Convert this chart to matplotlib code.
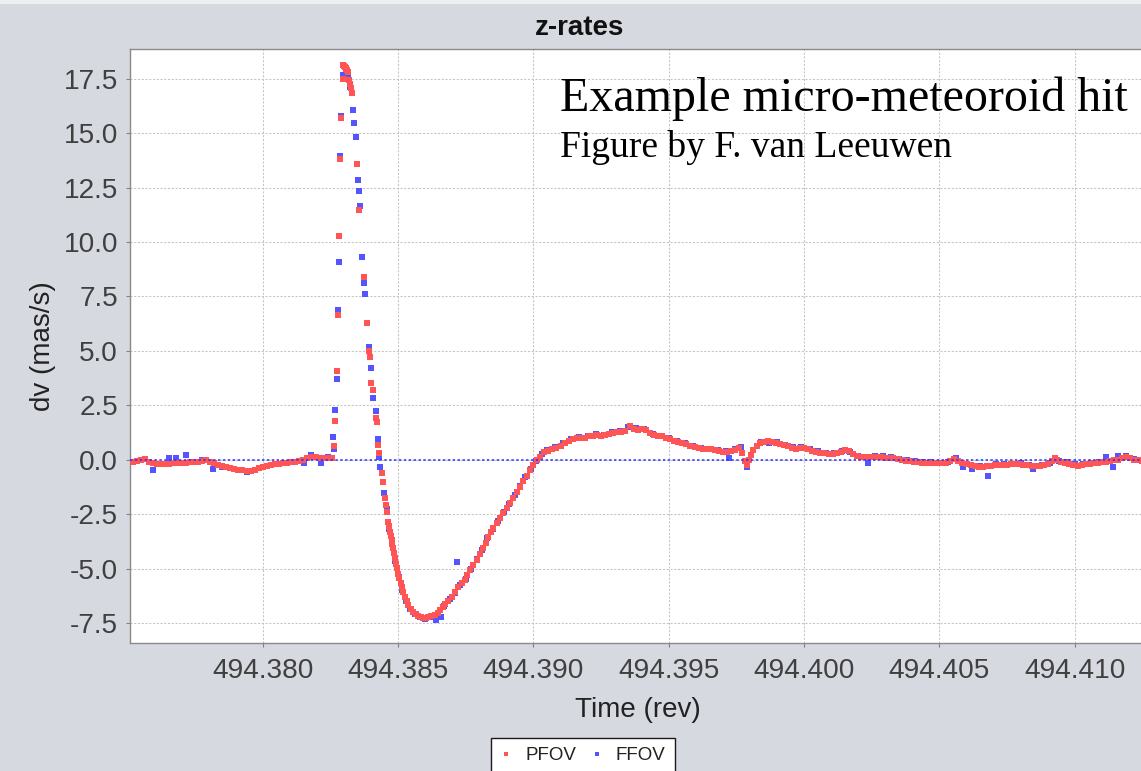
import matplotlib
matplotlib.use("Agg")
import matplotlib.pyplot as plt
from matplotlib.lines import Line2D
from matplotlib.patches import Rectangle
from matplotlib.ticker import FormatStrFormatter

plt.rcParams["font.family"] = ["Liberation Sans", "DejaVu Sans"]
plt.rcParams["axes.unicode_minus"] = False

# Sample times are offsets from T0, in milli-revolutions
T0 = 494.375

# PFOV along-scan rate residuals: (time offset [mrev], dv [mas/s])
pfov = [
    (0.05, -0.08), (0.20, -0.07), (0.35, -0.05), (0.50, 0.00), (0.65, 0.04), (0.80, -0.08),
    (0.95, -0.14), (1.10, -0.17), (1.25, -0.20), (1.40, -0.19), (1.55, -0.18), (1.70, -0.16),
    (1.85, -0.15), (2.00, -0.13), (2.15, -0.12), (2.30, -0.10), (2.45, -0.08), (2.60, -0.07),
    (2.75, -0.05), (2.90, -0.02), (3.05, -0.08), (3.20, -0.16), (3.35, -0.21), (3.50, -0.26),
    (3.65, -0.30), (3.80, -0.35), (3.95, -0.40), (4.10, -0.44), (4.25, -0.48), (4.40, -0.51),
    (4.55, -0.50), (4.70, -0.44), (4.85, -0.38), (5.00, -0.31), (5.15, -0.26), (5.30, -0.21),
    (5.45, -0.19), (5.60, -0.17), (5.75, -0.16), (5.90, -0.14), (6.05, -0.11), (6.20, -0.08),
    (6.35, -0.05), (6.50, 0.00), (6.65, 0.08), (6.80, 0.14), (6.95, 0.12), (7.10, 0.10),
    (7.25, 0.10), (7.40, 0.09), (7.55, 0.08),
    (7.63, 0.64), (7.68, 1.79), (7.73, 4.08), (7.77, 6.65), (7.81, 10.29), (7.86, 13.79),
    (7.90, 15.67), (7.95, 17.48), (7.97, 18.12), (8.00, 18.08), (8.03, 18.03), (8.06, 17.97),
    (8.09, 17.93), (8.12, 17.89), (8.16, 17.78), (8.20, 17.45), (8.22, 17.26), (8.25, 17.05),
    (8.28, 16.82), (8.47, 13.56), (8.55, 11.47), (8.75, 8.40), (8.84, 6.27), (8.93, 5.01),
    (8.97, 4.72), (9.01, 3.53), (9.06, 3.19), (9.17, 1.93), (9.21, 1.73), (9.24, 0.69),
    (9.29, 0.31),
    (9.39, -0.61), (9.43, -0.99), (9.51, -1.76), (9.55, -2.06), (9.60, -2.37), (9.64, -2.83),
    (9.67, -3.05), (9.70, -3.29), (9.73, -3.48), (9.76, -3.67), (9.79, -3.86), (9.82, -4.05),
    (9.85, -4.28), (9.88, -4.51), (9.92, -4.75), (9.95, -4.97), (10.00, -5.22), (10.04, -5.43),
    (10.09, -5.63), (10.13, -5.81), (10.19, -6.05), (10.25, -6.27), (10.31, -6.47), (10.37, -6.65),
    (10.46, -6.82), (10.56, -6.96), (10.65, -7.07), (10.74, -7.16), (10.84, -7.22), (10.93, -7.26),
    (11.02, -7.24), (11.11, -7.19), (11.23, -7.15), (11.36, -7.11), (11.46, -7.00), (11.55, -6.88),
    (11.64, -6.76), (11.73, -6.62), (11.85, -6.45), (11.98, -6.27), (12.10, -6.05), (12.22, -5.81),
    (12.35, -5.66), (12.47, -5.50), (12.56, -5.28), (12.65, -5.05), (12.78, -4.82), (12.90, -4.59),
    (13.02, -4.32), (13.15, -4.05), (13.24, -3.79), (13.33, -3.52), (13.43, -3.32), (13.52, -3.13),
    (13.64, -2.90), (13.76, -2.68), (13.89, -2.45), (14.01, -2.22), (14.13, -1.99), (14.25, -1.76),
    (14.38, -1.49), (14.50, -1.22), (14.62, -0.97), (14.75, -0.72), (14.87, -0.48), (14.99, -0.23),
    (15.12, -0.02), (15.24, 0.15),
    (15.40, 0.36), (15.55, 0.43), (15.70, 0.49), (15.85, 0.54), (16.00, 0.64), (16.15, 0.76),
    (16.30, 0.88), (16.45, 0.95), (16.60, 0.99), (16.75, 1.01), (16.90, 1.03), (17.05, 1.08),
    (17.20, 1.12), (17.35, 1.15), (17.50, 1.12), (17.65, 1.13), (17.80, 1.21), (17.95, 1.25),
    (18.10, 1.27), (18.25, 1.29), (18.40, 1.34), (18.55, 1.58), (18.70, 1.42), (18.85, 1.38),
    (19.00, 1.44), (19.15, 1.36), (19.30, 1.22), (19.45, 1.14), (19.60, 1.10), (19.75, 1.08),
    (19.90, 1.02), (20.05, 0.95), (20.20, 0.88), (20.35, 0.83), (20.50, 0.80), (20.65, 0.72),
    (20.80, 0.64), (20.95, 0.60), (21.10, 0.56), (21.25, 0.50), (21.40, 0.49), (21.55, 0.49),
    (21.70, 0.45), (21.85, 0.41), (22.00, 0.38), (22.15, 0.35), (22.30, 0.40), (22.45, 0.48),
    (22.60, 0.53), (22.72, 0.30), (22.80, -0.05), (22.88, -0.22), (22.96, -0.02), (23.04, 0.25),
    (23.12, 0.45), (23.24, 0.66), (23.36, 0.77), (23.50, 0.84), (23.65, 0.85), (23.80, 0.83),
    (23.95, 0.78), (24.10, 0.73), (24.25, 0.68), (24.40, 0.63), (24.55, 0.57), (24.70, 0.50),
    (24.85, 0.54), (25.00, 0.57), (25.15, 0.49), (25.30, 0.43), (25.45, 0.38), (25.60, 0.34),
    (25.75, 0.30), (25.90, 0.28), (26.05, 0.29), (26.20, 0.31), (26.35, 0.37), (26.50, 0.47),
    (26.65, 0.40), (26.80, 0.28), (26.95, 0.18), (27.10, 0.13), (27.25, 0.12), (27.40, 0.12),
    (27.55, 0.13), (27.70, 0.15), (27.85, 0.13), (28.00, 0.11), (28.15, 0.09), (28.30, 0.07),
    (28.45, 0.04), (28.60, 0.00), (28.75, -0.03), (28.90, -0.06), (29.05, -0.08), (29.20, -0.10),
    (29.35, -0.12), (29.50, -0.12), (29.65, -0.13), (29.80, -0.14), (29.95, -0.15), (30.10, -0.14),
    (30.25, -0.12), (30.40, -0.03), (30.55, 0.04), (30.70, -0.05), (30.85, -0.12), (31.00, -0.19),
    (31.15, -0.24), (31.30, -0.28), (31.45, -0.31), (31.60, -0.30), (31.75, -0.29), (31.90, -0.27),
    (32.05, -0.25), (32.20, -0.23), (32.35, -0.22), (32.50, -0.21), (32.65, -0.20), (32.80, -0.20),
    (32.95, -0.20), (33.10, -0.22), (33.25, -0.25), (33.40, -0.27), (33.55, -0.28), (33.70, -0.28),
    (33.85, -0.25), (34.00, -0.20), (34.15, -0.04), (34.25, 0.08), (34.35, 0.01), (34.50, -0.10),
    (34.65, -0.14), (34.80, -0.19), (34.95, -0.24), (35.10, -0.26), (35.25, -0.23), (35.40, -0.20),
    (35.55, -0.17), (35.70, -0.14), (35.85, -0.12), (36.00, -0.10), (36.15, -0.08), (36.30, -0.05),
    (36.45, -0.02), (36.60, 0.02), (36.75, 0.08), (36.90, 0.15), (37.05, 0.08), (37.20, 0.02),
    (37.35, -0.01), (37.50, -0.03),
]

# FFOV along-scan rate residuals: (time offset [mrev], dv [mas/s])
ffov = [
    (0.20, -0.10), (0.50, 0.02), (0.94, -0.46), (1.10, -0.20), (1.53, 0.11), (1.78, 0.11),
    (2.15, 0.23), (2.45, -0.10), (2.75, -0.02), (3.17, -0.43), (3.50, -0.30), (3.80, -0.38),
    (4.10, -0.46), (4.40, -0.54), (4.70, -0.46), (5.00, -0.34), (5.30, -0.24), (5.60, -0.20),
    (5.90, -0.12), (6.20, -0.10), (6.52, -0.15), (6.77, 0.23), (7.14, -0.15), (7.40, 0.12),
    (7.58, 1.04), (7.63, 0.52), (7.68, 2.29), (7.73, 3.70), (7.77, 6.90), (7.81, 9.08),
    (7.85, 13.94), (7.90, 15.78), (7.95, 17.66), (8.16, 17.66), (8.22, 17.10), (8.32, 16.06),
    (8.37, 15.47), (8.43, 14.83), (8.51, 12.84), (8.55, 12.35), (8.60, 11.65), (8.68, 9.30),
    (8.74, 8.10), (8.79, 7.60), (8.92, 5.16), (9.01, 4.20), (9.08, 2.83), (9.17, 2.25),
    (9.26, 0.96), (9.30, 0.15), (9.34, -0.30),
    (9.48, -1.50), (9.58, -2.25), (9.68, -3.15), (9.78, -3.85), (9.90, -4.65), (10.02, -5.35),
    (10.16, -5.95), (10.30, -6.45), (10.45, -6.85), (10.62, -7.08), (10.80, -7.22), (11.00, -7.30),
    (11.18, -7.22), (11.40, -7.34), (11.57, -7.20), (11.70, -6.70), (11.90, -6.40), (12.10, -6.10),
    (12.19, -4.69), (12.30, -5.75), (12.50, -5.45), (12.70, -5.00), (12.90, -4.55), (13.10, -4.15),
    (13.30, -3.58), (13.50, -3.18), (13.70, -2.80), (13.90, -2.40), (14.10, -2.00), (14.30, -1.62),
    (14.50, -1.18), (14.70, -0.78), (14.90, -0.42), (15.10, -0.05), (15.30, 0.28),
    (15.50, 0.45), (15.80, 0.58), (16.10, 0.78), (16.40, 0.97), (16.70, 1.04), (17.00, 1.12),
    (17.30, 1.20), (17.60, 1.16), (17.90, 1.30), (18.20, 1.32), (18.50, 1.50), (18.80, 1.45),
    (19.10, 1.40), (19.40, 1.20), (19.70, 1.12), (20.00, 1.00), (20.30, 0.88), (20.60, 0.76),
    (20.90, 0.65), (21.20, 0.55), (21.50, 0.52), (21.80, 0.45), (22.10, 0.40), (22.24, 0.10),
    (22.45, 0.52), (22.65, 0.58), (22.88, -0.31), (23.10, 0.48), (23.40, 0.82), (23.69, 0.80),
    (24.00, 0.82), (24.30, 0.70), (24.60, 0.60), (24.90, 0.60), (25.20, 0.50), (25.50, 0.40),
    (25.80, 0.33), (26.10, 0.32), (26.40, 0.42), (26.70, 0.38), (27.00, 0.20), (27.37, -0.12),
    (27.60, 0.17), (27.90, 0.18), (28.20, 0.12), (28.50, 0.06), (28.80, 0.02), (29.10, -0.04),
    (29.40, -0.10), (29.70, -0.08), (30.00, -0.12), (30.30, -0.10), (30.60, 0.08), (30.88, -0.31),
    (31.19, -0.43), (31.50, -0.26), (31.80, -0.75), (32.10, -0.20), (32.40, -0.18), (32.70, -0.17),
    (33.00, -0.16), (33.30, -0.22), (33.46, -0.43), (33.80, -0.25), (34.10, -0.12), (34.40, -0.04),
    (34.70, -0.10), (35.00, -0.20), (35.30, -0.18), (35.60, -0.14), (35.90, -0.08), (36.17, 0.15),
    (36.42, -0.31), (36.60, 0.18), (36.90, 0.20), (37.20, 0.05), (37.40, 0.00),
]

x_ticks = [494.380, 494.385, 494.390, 494.395, 494.400, 494.405, 494.410]
y_ticks = [-7.5, -5.0, -2.5, 0.0, 2.5, 5.0, 7.5, 10.0, 12.5, 15.0, 17.5]

PFOV_COLOR = "#ff5555"
FFOV_COLOR = "#5555ff"

W, H = 1141, 771
fig = plt.figure(figsize=(W / 100, H / 100), dpi=100)
fig.patch.set_facecolor("#d6d9e0")
fig.patches.append(Rectangle((0, 1 - 4 / H), 1, 4 / H, transform=fig.transFigure,
                             facecolor="#eeeff1", edgecolor="none", zorder=0))

left, right, top, bottom = 130, 1146, 49.3, 643.3
ax = fig.add_axes([left / W, (H - bottom) / H, (right - left) / W, (bottom - top) / H])
ax.set_facecolor("white")

pf_x = [T0 + t * 1e-3 for t, _ in pfov]
pf_y = [v for _, v in pfov]
ff_x = [T0 + t * 1e-3 for t, _ in ffov]
ff_y = [v for _, v in ffov]

ax.plot(ff_x, ff_y, ls="none", marker="s", ms=4.5, mew=0, color=FFOV_COLOR, zorder=3)
ax.plot(pf_x, pf_y, ls="none", marker="s", ms=4.5, mew=0, color=PFOV_COLOR, zorder=4)
ax.axhline(0.0, color="#3030ff", lw=1.1, dashes=(1.6, 1.6), zorder=5)

ax.set_xlim(T0 + 0.094e-3, T0 + 37.63e-3)
ax.set_ylim(-8.41, 18.84)
ax.set_xticks(x_ticks)
ax.set_yticks(y_ticks)
ax.xaxis.set_major_formatter(FormatStrFormatter("%.3f"))
ax.yaxis.set_major_formatter(FormatStrFormatter("%.1f"))
ax.grid(True, color="#c4c4c4", lw=0.75, dashes=(2.0, 1.6), zorder=1)
ax.set_axisbelow(True)

ax.tick_params(axis="both", labelsize=20.2, labelcolor="#404040", color="#808080",
               length=2.9, width=0.8, direction="out")
ax.tick_params(axis="x", pad=7.6)
ax.tick_params(axis="y", pad=5.8)
for side in ("left", "bottom", "top"):
    ax.spines[side].set_color("#8a8a8a")
    ax.spines[side].set_linewidth(1.0)
ax.spines["right"].set_visible(False)

ax.set_xlabel("Time (rev)", fontsize=20, color="#222222")
ax.xaxis.set_label_coords(0.5, (bottom - 716.7) / (bottom - top))
ax.xaxis.label.set_va("baseline")
ax.set_ylabel("dv (mas/s)", fontsize=20, color="#222222")
ax.yaxis.set_label_coords((50 - left) / (right - left), 0.5)
ax.yaxis.label.set_va("baseline")

fig.text(580 / W, (H - 35) / H, "z-rates", ha="center", va="baseline",
         fontsize=20, fontweight="bold", color="#111111")

serif = ["Liberation Serif", "DejaVu Serif"]
fig.text(560 / W, (H - 111) / H, "Example micro-meteoroid hit", fontsize=34.6,
         family=serif, color="black", va="baseline", ha="left", zorder=6)
fig.text(560 / W, (H - 157) / H, "Figure by F. van Leeuwen", fontsize=27,
         family=serif, color="black", va="baseline", ha="left", zorder=6)

handles = [
    Line2D([], [], ls="none", marker="s", ms=2.6, mew=0, color=PFOV_COLOR, label="PFOV"),
    Line2D([], [], ls="none", marker="s", ms=2.6, mew=0, color=FFOV_COLOR, label="FFOV"),
]
leg = fig.legend(handles=handles, loc="upper center", bbox_to_anchor=(583 / W, 33.3 / H),
                 ncol=2, fontsize=13.5, frameon=True, fancybox=False, edgecolor="#1a1a1a",
                 framealpha=1.0, borderpad=0.5, handlelength=0.6, handletextpad=0.7,
                 columnspacing=0.8, borderaxespad=0.0)
leg.get_frame().set_linewidth(1.0)
for txt in leg.get_texts():
    txt.set_color("#222222")

fig.savefig("out.png", dpi=100, facecolor=fig.get_facecolor())
